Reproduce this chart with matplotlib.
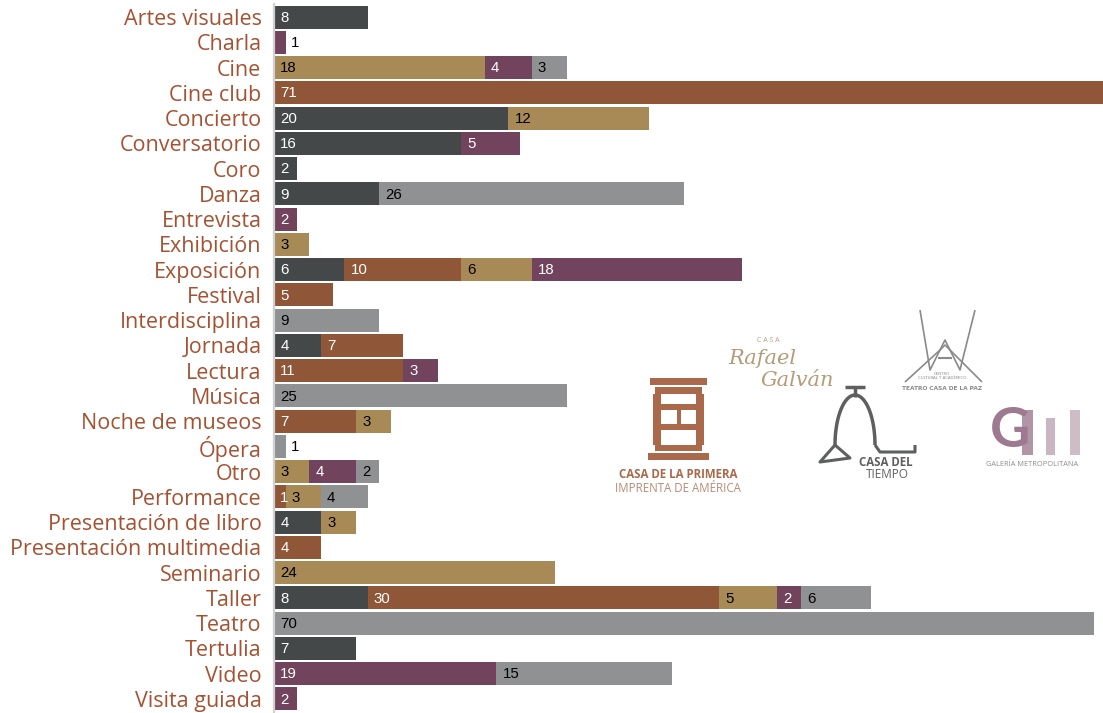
import matplotlib
matplotlib.use("Agg")
import matplotlib.pyplot as plt
from matplotlib.patches import Rectangle
from matplotlib.lines import Line2D
import numpy as np

categories = ["Artes visuales", "Charla", "Cine", "Cine club", "Concierto", "Conversatorio",
              "Coro", "Danza", "Entrevista", "Exhibición", "Exposición", "Festival",
              "Interdisciplina", "Jornada", "Lectura", "Música", "Noche de museos", "Ópera",
              "Otro", "Performance", "Presentación de libro", "Presentación multimedia",
              "Seminario", "Taller", "Teatro", "Tertulia", "Video", "Visita guiada"]

# series (stack order left to right)
casa_del_tiempo = [8, 0, 0, 0, 20, 16, 2, 9, 0, 0, 6, 0, 0, 4, 0, 0, 0, 0, 0, 0, 4, 0, 0, 8, 0, 7, 0, 0]
casa_imprenta   = [0, 0, 0, 71, 0, 0, 0, 0, 0, 0, 10, 5, 0, 7, 11, 0, 7, 0, 0, 1, 0, 4, 0, 30, 0, 0, 0, 0]
casa_galvan     = [0, 0, 18, 0, 12, 0, 0, 0, 0, 3, 6, 0, 0, 0, 0, 0, 3, 0, 3, 3, 3, 0, 24, 5, 0, 0, 0, 0]
galeria_metro   = [0, 1, 4, 0, 0, 5, 0, 0, 2, 0, 18, 0, 0, 0, 3, 0, 0, 0, 4, 0, 0, 0, 0, 2, 0, 0, 19, 2]
teatro_paz      = [0, 0, 3, 0, 0, 0, 0, 26, 0, 0, 0, 0, 9, 0, 0, 25, 0, 1, 2, 4, 0, 0, 0, 6, 70, 0, 15, 0]

series = [casa_del_tiempo, casa_imprenta, casa_galvan, galeria_metro, teatro_paz]
colors = ["#454849", "#8F5638", "#A88A57", "#71435D", "#909193"]
text_colors = ["white", "white", "black", "white", "black"]

W, H = 1103, 713
fig = plt.figure(figsize=(W / 100, H / 100), dpi=100)
ax = fig.add_axes([274 / W, 1.4 / H, 1 - 274 / W, (711.6 - 4.4) / H])

n = len(categories)
y = np.arange(n)
left = np.zeros(n)
for s, c, tc in zip(series, colors, text_colors):
    vals = np.array(s, dtype=float)
    ax.barh(y, vals, left=left, height=0.91, color=c, edgecolor="none")
    for i, v in enumerate(vals):
        if v <= 0:
            continue
        total = sum(ser[i] for ser in series)
        if total <= 1:
            ax.annotate(f"{int(v)}", (left[i] + v, y[i]), xytext=(3.5, -0.5), textcoords="offset points",
                        va="center", ha="left", color="black", fontsize=10.8,
                        family="Liberation Sans")
        else:
            ax.annotate(f"{int(v)}", (left[i], y[i]), xytext=(4.5, -0.5), textcoords="offset points",
                        va="center", ha="left", color=tc, fontsize=10.8,
                        family="Liberation Sans")
    left += vals

ax.set_xlim(0, 70.8)
ax.set_ylim(n - 0.5, -0.5)
ax.set_yticks(y)
ax.set_yticklabels(categories, fontsize=15.5, color="#A65232", family="Open Sans")
ax.tick_params(axis="y", length=0, pad=9)
ax.set_xticks([])
for sp in ["top", "right", "bottom"]:
    ax.spines[sp].set_visible(False)
ax.spines["left"].set_color("#d0d0d0")
ax.spines["left"].set_linewidth(1.6)


def P(x, yy):
    return (x / W, 1 - yy / H)


def ftext(x, yy, s, **kw):
    fig.text(x / W, 1 - yy / H, s, ha="center", va="center", **kw)


def rect(x0, y0, x1, y1, color, alpha=1.0):
    fig.add_artist(Rectangle(P(x0, y1), (x1 - x0) / W, (y1 - y0) / H, transform=fig.transFigure,
                             color=color, alpha=alpha, lw=0))


def line(xs, ys, color, lw=2.0):
    fig.add_artist(Line2D([x / W for x in xs], [1 - v / H for v in ys], transform=fig.transFigure,
                          color=color, lw=lw, solid_capstyle="butt"))


# Logo: Casa de la Primera Imprenta de América
pc = "#A9694A"
rect(650, 378, 707, 385, pc)
rect(655, 387, 702, 394, pc)
rect(653, 394, 661, 445, pc)
rect(696, 394, 704, 445, pc)
rect(661, 404, 696, 410, pc)
rect(677, 410, 681, 424, pc)
rect(661, 424, 696, 430, pc)
rect(655, 445, 702, 451, pc)
rect(648, 453, 709, 460, pc)
ftext(678, 474, "CASA DE LA PRIMERA", fontsize=8.3, color=pc, weight="bold", family="Open Sans")
ftext(678, 488, "IMPRENTA DE AMÉRICA", fontsize=8.3, color="#B98A74", family="Open Sans")

# Logo: Casa Rafael Galván
gc = "#B59C79"
ftext(768, 340, "C A S A", fontsize=5, color=gc, family="Open Sans")
ftext(762, 358, "Rafael", fontsize=15, color=gc, style="italic", family="DejaVu Serif")
ftext(797, 381, "Galván", fontsize=15, color=gc, style="italic", family="DejaVu Serif")

# Logo: Casa del Tiempo
tc_ = "#5E5F60"
line([845, 865], [387, 387], tc_, 2.5)
line([855, 855], [387, 397], tc_, 2.5)
th = np.linspace(0, np.pi, 40)
line(list(855 + 20 * np.cos(th)), list(445 - 50 * np.sin(th)), tc_, 2.5)
line([835, 820, 850, 835], [445, 462, 458, 445], tc_, 2.2)
line([875, 880, 915, 915], [445, 452, 452, 445], tc_, 2.2)
ftext(886, 462, "CASA DEL", fontsize=8.3, color=tc_, weight="bold", family="Open Sans")
ftext(887, 475, "TIEMPO", fontsize=8.5, color=tc_, family="Open Sans")

# Logo: Teatro Casa de la Paz
pz = "#8A8A8A"
line([920, 930, 945, 960, 975], [310, 370, 340, 370, 310], pz, 1.2)
line([905, 940, 945, 950, 982], [382, 350, 345, 350, 382], pz, 1.2)
line([938, 952], [358, 358], pz, 1.5)
ftext(942, 376, "CENTRO\nCULTURAL Y ACADÉMICO", fontsize=2.8, color=pz, family="DejaVu Sans",
      linespacing=1.0)
ftext(942, 389, "TEATRO CASA DE LA PAZ", fontsize=4.2, color=pz, weight="bold", family="DejaVu Sans")

# Logo: Galería Metropolitana
gm = "#9E7A90"
ftext(1010, 431, "G", fontsize=40, color=gm, weight="bold", family="Lato")
rect(1022, 410, 1033, 455, gm, 0.8)
rect(1046, 418, 1055, 455, gm, 0.55)
rect(1070, 410, 1080, 455, gm, 0.5)
ftext(1032, 465, "GALERÍA METROPOLITANA", fontsize=5.3, color="#8E8A90", family="Open Sans")

fig.savefig("out.png", dpi=100)
